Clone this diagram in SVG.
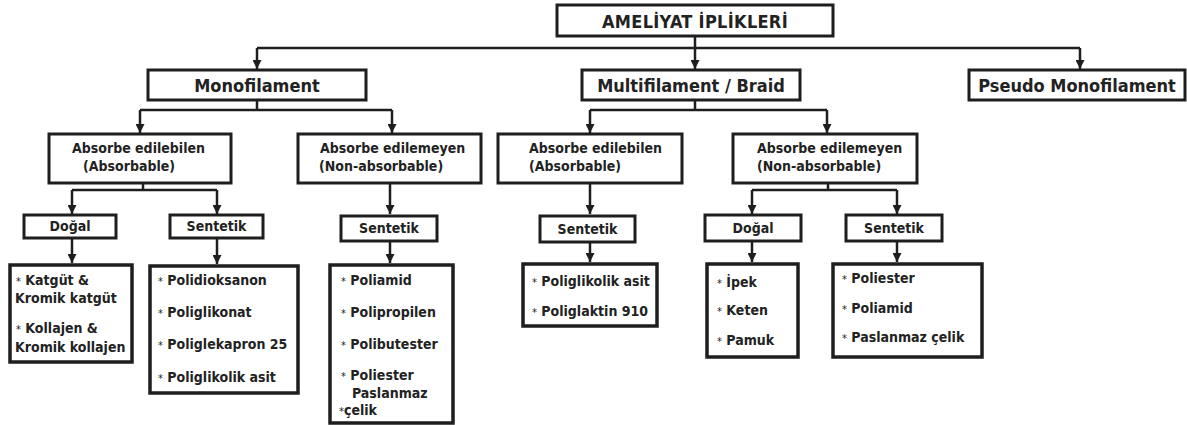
<svg xmlns="http://www.w3.org/2000/svg" width="1187" height="425" viewBox="0 0 1187 425">
<defs>
<marker id="arr" viewBox="0 0 10 10" refX="10" refY="5" markerWidth="10" markerHeight="9" markerUnits="userSpaceOnUse" orient="auto">
<path d="M0,0 L10,5 L0,10 z" fill="#1e1e1e"/>
</marker>
<style>
rect{fill:#fff;stroke:#1e1e1e;stroke-width:3}
.leaf{stroke-width:3.5}
text{font-family:"DejaVu Sans Condensed","DejaVu Sans",sans-serif;font-weight:bold;fill:#222}
.t0{font-size:18px;letter-spacing:0.3px}
.t1{font-size:18px}
.t2{font-size:14px}
.t3{font-size:14px}
.t4{font-size:14px}
.c{text-anchor:middle}
.ast{font-weight:normal;font-size:11px}
#connectors path{fill:none;stroke:#1e1e1e;stroke-width:2.5}
#connectors .a{marker-end:url(#arr)}
</style>
</defs>
<rect x="0" y="0" width="1187" height="425" style="fill:#fff;stroke:none"/>
<g id="connectors">
<path d="M695,36 V48 M257,48 H1080"/>
<path class="a" d="M257,48 V69"/>
<path class="a" d="M695,48 V69"/>
<path class="a" d="M1080,48 V69"/>
<path d="M257,100 V110 M140,110 H392"/>
<path class="a" d="M140,110 V133"/>
<path class="a" d="M392,110 V133"/>
<path d="M695,100 V110 M590,110 H827"/>
<path class="a" d="M590,110 V133"/>
<path class="a" d="M827,110 V133"/>
<path d="M143,183 V190 M72,190 H217"/>
<path class="a" d="M72,190 V214"/>
<path class="a" d="M217,190 V214"/>
<path class="a" d="M390,183 V214"/>
<path class="a" d="M590,183 V214"/>
<path d="M828,183 V190 M752,190 H897"/>
<path class="a" d="M752,190 V214"/>
<path class="a" d="M897,190 V214"/>
<path class="a" d="M72,238 V263"/>
<path class="a" d="M217,238 V264"/>
<path class="a" d="M390,241 V263"/>
<path class="a" d="M590,241 V262"/>
<path class="a" d="M752,241 V262"/>
<path class="a" d="M897,241 V262"/>
</g>
<g id="root">
<rect x="557" y="5" width="276" height="31"/>
<text class="t0 c" x="695" y="28">AMELİYAT İPLİKLERİ</text>
</g>
<g id="monofilament">
<rect x="148" y="70" width="218" height="30"/>
<text class="t1 c" x="257" y="92">Monofilament</text>
</g>
<g id="multifilament">
<rect x="582" y="70" width="218" height="30"/>
<text class="t1 c" x="691" y="92">Multifilament / Braid</text>
</g>
<g id="pseudo">
<rect x="969" y="70" width="216" height="30"/>
<text class="t1 c" x="1077" y="92">Pseudo Monofilament</text>
</g>
<g id="mono-abs">
<rect x="49" y="134" width="182" height="49"/>
<text class="t2" x="72" y="153">Absorbe edilebilen</text>
<text class="t2" x="83" y="171">(Absorbable)</text>
</g>
<g id="mono-nonabs">
<rect x="298" y="134" width="183" height="49"/>
<text class="t2" x="320" y="153">Absorbe edilemeyen</text>
<text class="t2" x="319" y="171">(Non-absorbable)</text>
</g>
<g id="multi-abs">
<rect x="498" y="134" width="184" height="49"/>
<text class="t2" x="529" y="153">Absorbe edilebilen</text>
<text class="t2" x="529" y="171">(Absorbable)</text>
</g>
<g id="multi-nonabs">
<rect x="733" y="134" width="184" height="49"/>
<text class="t2" x="757" y="153">Absorbe edilemeyen</text>
<text class="t2" x="757" y="171">(Non-absorbable)</text>
</g>
<g id="mono-abs-dogal">
<rect x="24" y="215" width="92" height="23"/>
<text class="t3 c" x="70" y="231">Doğal</text>
</g>
<g id="mono-abs-sentetik">
<rect x="170" y="215" width="93" height="23"/>
<text class="t3 c" x="216.5" y="231">Sentetik</text>
</g>
<g id="mono-nonabs-sentetik">
<rect x="341" y="216" width="96" height="25"/>
<text class="t3 c" x="389" y="233">Sentetik</text>
</g>
<g id="multi-abs-sentetik">
<rect x="540" y="216" width="95" height="26"/>
<text class="t3 c" x="587.5" y="234">Sentetik</text>
</g>
<g id="multi-nonabs-dogal">
<rect x="705" y="215" width="96" height="26"/>
<text class="t3 c" x="753" y="233">Doğal</text>
</g>
<g id="multi-nonabs-sentetik">
<rect x="846" y="215" width="96" height="26"/>
<text class="t3 c" x="894" y="233">Sentetik</text>
</g>
<g id="leaf-mono-dogal">
<rect class="leaf" x="10" y="265" width="122" height="97"/>
<text class="t4" x="16" y="285"><tspan class="ast">*</tspan> Katgüt &amp;</text>
<text class="t4" x="15" y="303">Kromik katgüt</text>
<text class="t4" x="16" y="333"><tspan class="ast">*</tspan> Kollajen &amp;</text>
<text class="t4" x="15" y="352">Kromik kollajen</text>
</g>
<g id="leaf-mono-sentetik">
<rect class="leaf" x="150" y="266" width="148" height="127"/>
<text class="t4" x="158" y="285"><tspan class="ast">*</tspan> Polidioksanon</text>
<text class="t4" x="158" y="317"><tspan class="ast">*</tspan> Poliglikonat</text>
<text class="t4" x="158" y="349"><tspan class="ast">*</tspan> Poliglekapron 25</text>
<text class="t4" x="158" y="382"><tspan class="ast">*</tspan> Poliglikolik asit</text>
</g>
<g id="leaf-mono-nonabs">
<rect class="leaf" x="330" y="265" width="123" height="158"/>
<text class="t4" x="341" y="285"><tspan class="ast">*</tspan> Poliamid</text>
<text class="t4" x="341" y="317"><tspan class="ast">*</tspan> Polipropilen</text>
<text class="t4" x="341" y="349"><tspan class="ast">*</tspan> Polibutester</text>
<text class="t4" x="341" y="380"><tspan class="ast">*</tspan> Poliester</text>
<text class="t4" x="352" y="398">Paslanmaz</text>
<text class="t4" x="339" y="415"><tspan class="ast">*</tspan>çelik</text>
</g>
<g id="leaf-multi-abs">
<rect class="leaf" x="523" y="264" width="134" height="62"/>
<text class="t4" x="532" y="286"><tspan class="ast">*</tspan> Poliglikolik asit</text>
<text class="t4" x="532" y="316"><tspan class="ast">*</tspan> Poliglaktin 910</text>
</g>
<g id="leaf-multi-dogal">
<rect class="leaf" x="707" y="264" width="91" height="93"/>
<text class="t4" x="717" y="287"><tspan class="ast">*</tspan> İpek</text>
<text class="t4" x="717" y="315"><tspan class="ast">*</tspan> Keten</text>
<text class="t4" x="717" y="345"><tspan class="ast">*</tspan> Pamuk</text>
</g>
<g id="leaf-multi-sentetik">
<rect class="leaf" x="833" y="264" width="149" height="93"/>
<text class="t4" x="842" y="283"><tspan class="ast">*</tspan> Poliester</text>
<text class="t4" x="842" y="313"><tspan class="ast">*</tspan> Poliamid</text>
<text class="t4" x="842" y="342"><tspan class="ast">*</tspan> Paslanmaz çelik</text>
</g>
</svg>
